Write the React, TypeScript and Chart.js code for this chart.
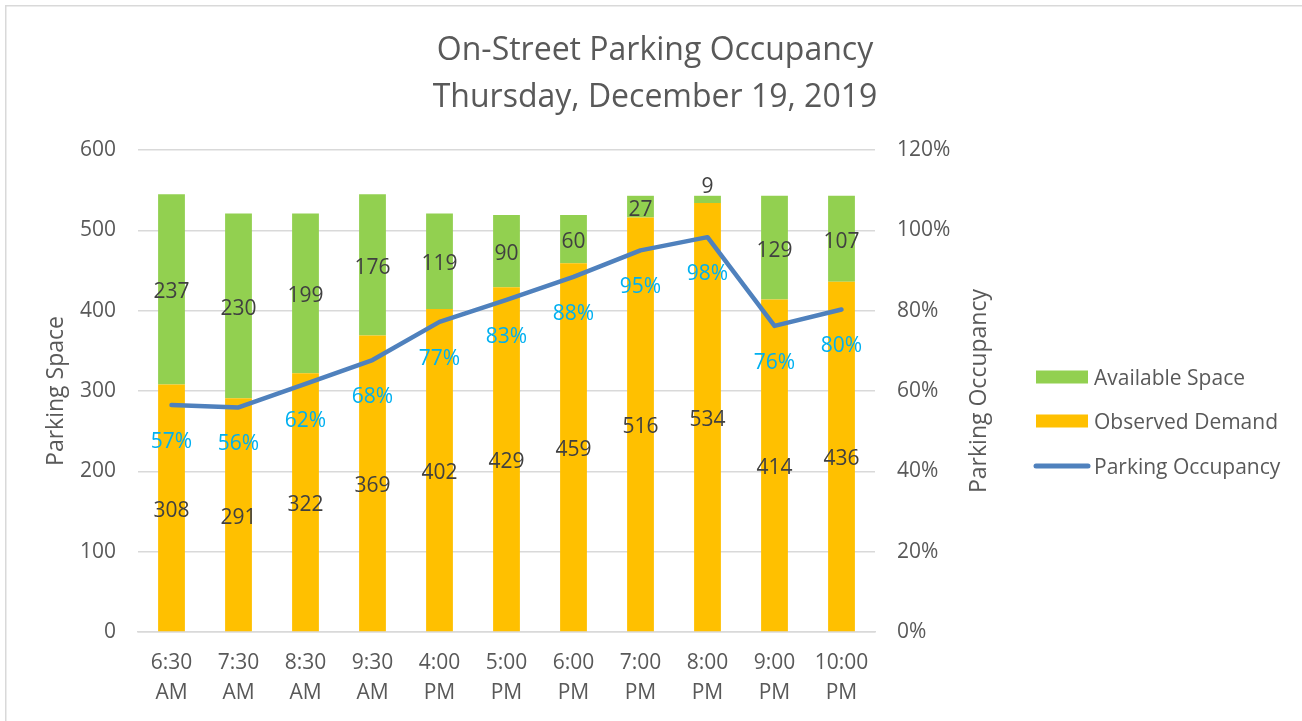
import React, { useEffect, useRef } from "react";
import { Chart, registerables } from "chart.js";

Chart.register(...registerables);

const categories = [
  ["6:30", "AM"], ["7:30", "AM"], ["8:30", "AM"], ["9:30", "AM"],
  ["4:00", "PM"], ["5:00", "PM"], ["6:00", "PM"], ["7:00", "PM"],
  ["8:00", "PM"], ["9:00", "PM"], ["10:00", "PM"],
];
const observedDemand = [308, 291, 322, 369, 402, 429, 459, 516, 534, 414, 436];
const availableSpace = [237, 230, 199, 176, 119, 90, 60, 27, 9, 129, 107];
const occupancyPct = [56.5, 55.9, 61.8, 67.7, 77.2, 82.7, 88.4, 95.0, 98.3, 76.2, 80.3];

const titleLines = ["On-Street Parking Occupancy", "Thursday, December 19, 2019"];
const leftAxisTitle = "Parking Space";
const rightAxisTitle = "Parking Occupancy";
const legendItems = ["Available Space", "Observed Demand", "Parking Occupancy"];

const FONT = "'Open Sans', sans-serif";
const GREEN = "#92D050";
const ORANGE = "#FFC000";
const BLUE = "#4F81BD";
const CYAN = "#00B0F0";
const TEXT = "#595959";
const LABEL = "#404040";

const W = 1302;
const H = 721;

const decorPlugin = {
  id: "decor",
  afterDatasetsDraw(chart: any) {
    const ctx = chart.ctx;
    ctx.save();
    ctx.textAlign = "center";
    ctx.textBaseline = "middle";
    ctx.font = `21px ${FONT}`;

    const mDemand = chart.getDatasetMeta(0);
    const mAvail = chart.getDatasetMeta(1);
    const mLine = chart.getDatasetMeta(2);
    ctx.fillStyle = LABEL;
    mDemand.data.forEach((el: any, i: number) => {
      const p = el.getProps(["x", "y", "base"], true);
      ctx.fillText(String(observedDemand[i]), p.x, (p.y + p.base) / 2 + 3);
    });
    mAvail.data.forEach((el: any, i: number) => {
      const p = el.getProps(["x", "y", "base"], true);
      const h = Math.abs(p.base - p.y);
      const y = h < 18 ? p.y - 9 : (p.y + p.base) / 2 + 3;
      ctx.fillText(String(availableSpace[i]), p.x, y);
    });
    ctx.fillStyle = CYAN;
    mLine.data.forEach((el: any, i: number) => {
      const p = el.getProps(["x", "y"], true);
      ctx.fillText(Math.round(occupancyPct[i]) + "%", p.x, p.y + 37);
    });
    ctx.restore();
  },
  afterDraw(chart: any) {
    const ctx = chart.ctx;
    const area = chart.chartArea;
    ctx.save();
    ctx.strokeStyle = "#D9D9D9";
    ctx.lineWidth = 1.5;
    ctx.beginPath();
    ctx.moveTo(W + 5, 5.75);
    ctx.lineTo(5.75, 5.75);
    ctx.lineTo(5.75, H + 5);
    ctx.stroke();

    ctx.fillStyle = TEXT;
    ctx.textAlign = "center";
    ctx.textBaseline = "middle";
    ctx.font = `32px ${FONT}`;
    ctx.fillText(titleLines[0], 655, 51);
    ctx.fillText(titleLines[1], 655, 98);

    ctx.font = `23px ${FONT}`;
    ctx.save();
    ctx.translate(979, (area.top + area.bottom) / 2);
    ctx.rotate(-Math.PI / 2);
    ctx.fillText(rightAxisTitle, 0, 0);
    ctx.restore();

    const lx = 1036;
    const ys = [377, 421, 466];
    ctx.fillStyle = GREEN;
    ctx.fillRect(lx, ys[0] - 6.5, 52, 13);
    ctx.fillStyle = ORANGE;
    ctx.fillRect(lx, ys[1] - 6.5, 52, 13);
    ctx.strokeStyle = BLUE;
    ctx.lineWidth = 5;
    ctx.lineCap = "round";
    ctx.beginPath();
    ctx.moveTo(lx, ys[2]);
    ctx.lineTo(lx + 52, ys[2]);
    ctx.stroke();
    ctx.textAlign = "left";
    ctx.font = `21px ${FONT}`;
    ctx.fillStyle = TEXT;
    legendItems.forEach((t, i) => ctx.fillText(t, 1094, ys[i] + 2));
    ctx.restore();
  },
};

export default function App() {
  const ref = useRef<HTMLCanvasElement | null>(null);
  useEffect(() => {
    if (!ref.current) return;
    const chart = new Chart(ref.current, {
      type: "bar",
      data: {
        labels: categories,
        datasets: [
          {
            type: "bar",
            label: "Observed Demand",
            data: observedDemand,
            backgroundColor: ORANGE,
            yAxisID: "y",
            stack: "s",
            order: 1,
            categoryPercentage: 1,
            barPercentage: 0.4,
          },
          {
            type: "bar",
            label: "Available Space",
            data: availableSpace,
            backgroundColor: GREEN,
            yAxisID: "y",
            stack: "s",
            order: 1,
            categoryPercentage: 1,
            barPercentage: 0.4,
          },
          {
            type: "line",
            label: "Parking Occupancy",
            data: occupancyPct,
            borderColor: BLUE,
            backgroundColor: BLUE,
            borderWidth: 4.5,
            pointRadius: 0,
            tension: 0,
            yAxisID: "y1",
            order: 0,
            borderCapStyle: "round",
            borderJoinStyle: "round",
          } as any,
        ],
      },
      options: {
        animation: false,
        responsive: false,
        devicePixelRatio: 1,
        layout: { padding: { top: 150, left: 0, right: 0, bottom: 0 } },
        plugins: {
          legend: { display: false },
          title: { display: false },
          tooltip: { enabled: false },
        },
        scales: {
          x: {
            stacked: true,
            grid: { display: false, drawTicks: false },
            border: { display: true, color: "#D9D9D9", width: 1.5 },
            ticks: {
              color: TEXT,
              font: { family: FONT, size: 21, lineHeight: 1.43 },
              padding: 16,
              maxRotation: 0,
              autoSkip: false,
            },
            afterFit: (s: any) => { s.height = H - 632; },
          },
          y: {
            stacked: true,
            position: "left",
            min: 0,
            max: 600,
            ticks: {
              stepSize: 100,
              color: TEXT,
              font: { family: FONT, size: 21 },
              padding: 22,
            },
            grid: { color: "#D9D9D9", lineWidth: 1.5, drawTicks: false },
            border: { display: false },
            title: {
              display: true,
              text: leftAxisTitle,
              color: TEXT,
              font: { family: FONT, size: 23 },
              padding: { top: 43, bottom: 0 },
            },
            afterFit: (s: any) => { s.width = 138; },
          },
          y1: {
            position: "right",
            min: 0,
            max: 120,
            ticks: {
              stepSize: 20,
              color: TEXT,
              font: { family: FONT, size: 21 },
              padding: 22,
              callback: (v: any) => v + "%",
            },
            grid: { display: false, drawTicks: false },
            border: { display: false },
            afterFit: (s: any) => { s.width = W - 875; },
          },
        },
      },
      plugins: [decorPlugin],
    });
    return () => chart.destroy();
  }, []);
  return (
    <div style={{ position: "absolute", left: 0, top: 0, width: W, height: H, background: "#fff" }}>
      <canvas ref={ref} width={W} height={H} style={{ width: W, height: H, display: "block" }} />
    </div>
  );
}
